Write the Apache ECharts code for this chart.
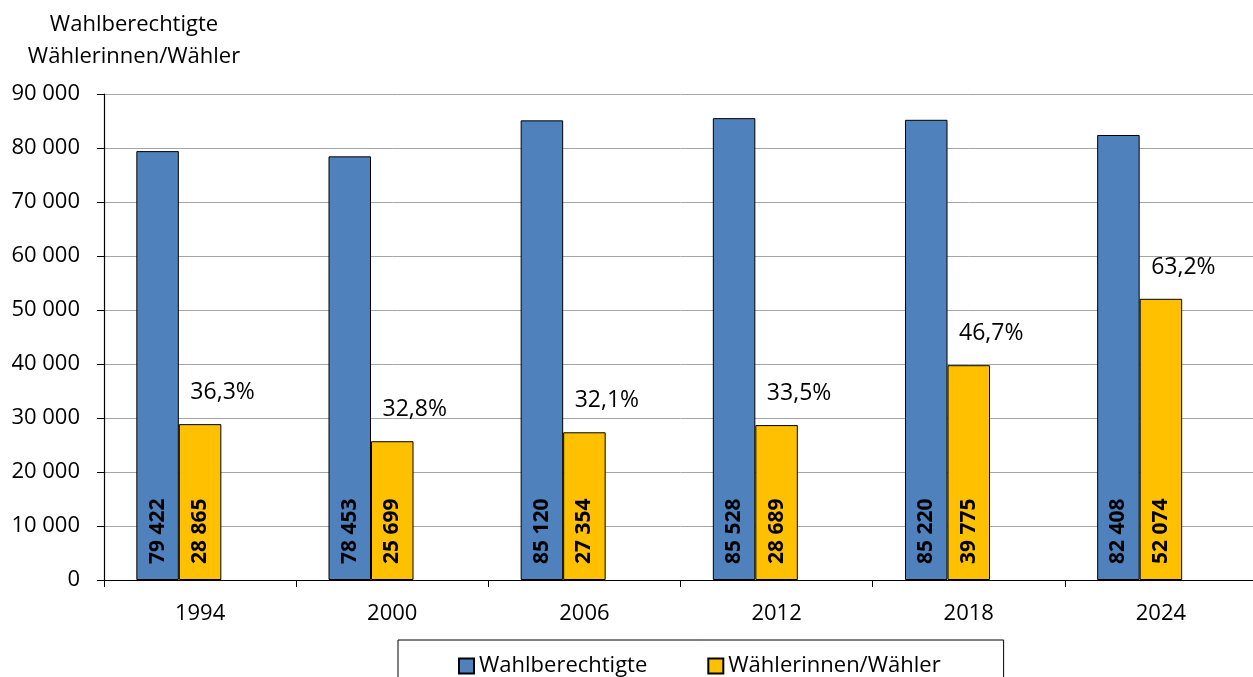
<!DOCTYPE html>
<html>
<head>
<meta charset="utf-8">
<script src="https://cdn.jsdelivr.net/npm/echarts@6/dist/echarts.min.js"></script>
<style>
html,body{margin:0;padding:0;background:#fff;overflow:hidden;width:1253px;height:677px;}
#c{width:1257px;height:677px;}
</style>
</head>
<body>
<div id="c"></div>
<script>
const years = ['1994', '2000', '2006', '2012', '2018', '2024'];
const eligible = [79422, 78453, 85120, 85528, 85220, 82408];
const voters = [28865, 25699, 27354, 28689, 39775, 52074];
const turnout = ['36,3%', '32,8%', '32,1%', '33,5%', '46,7%', '63,2%'];
const yTicks = { min: 0, max: 90000, interval: 10000 };
const seriesNames = ['Wahlberechtigte', 'Wählerinnen/Wähler'];

const FONT = "'Open Sans', 'Noto Sans', sans-serif";
const fmt = v => String(v).replace(/\B(?=(\d{3})+(?!\d))/g, ' ');

const insideLabel = {
  show: true,
  position: 'insideBottom',
  rotate: 90,
  align: 'left',
  verticalAlign: 'middle',
  distance: 16,
  fontFamily: FONT,
  fontSize: 21,
  fontWeight: 'bold',
  color: '#000',
  formatter: p => fmt(p.value)
};

const chart = echarts.init(document.getElementById('c'), null, { renderer: 'canvas' });
chart.setOption({
  animation: false,
  backgroundColor: '#fff',
  title: {
    text: 'Wahlberechtigte\nWählerinnen/Wähler',
    left: 129,
    top: 4,
    textAlign: 'center',
    textStyle: { fontFamily: FONT, fontSize: 22, fontWeight: 'normal', color: '#000', lineHeight: 32 }
  },
  grid: { left: 104, top: 94, right: 0, height: 486, containLabel: false },
  legend: {
    data: seriesNames,
    left: 398,
    top: 640,
    padding: [15, 63, 20, 60],
    itemGap: 60,
    itemWidth: 15,
    itemHeight: 15,
    borderColor: '#000',
    borderWidth: 1,
    icon: 'rect',
    textStyle: { fontFamily: FONT, fontSize: 22, color: '#000', padding: [0, 0, 0, 0] }
  },
  xAxis: {
    type: 'category',
    data: years,
    boundaryGap: true,
    axisLine: { lineStyle: { color: '#000', width: 1.2 } },
    axisTick: { show: true, length: 7, lineStyle: { color: '#000' } },
    axisLabel: { fontFamily: FONT, fontSize: 22, color: '#000', margin: 23 },
    splitLine: { show: false }
  },
  yAxis: {
    type: 'value',
    min: yTicks.min,
    max: yTicks.max,
    interval: yTicks.interval,
    axisLine: { show: true, lineStyle: { color: '#000', width: 1.2 } },
    axisTick: { show: true, length: 7, lineStyle: { color: '#000' } },
    axisLabel: { fontFamily: FONT, fontSize: 22, color: '#000', margin: 24, formatter: v => fmt(v) },
    splitLine: { show: true, lineStyle: { color: '#a6a6a6', width: 1 } }
  },
  series: [
    {
      name: seriesNames[0],
      type: 'bar',
      data: eligible,
      barWidth: 42.5,
      barGap: '0%',
      itemStyle: { color: '#4F81BD', borderColor: '#000', borderWidth: 1 },
      label: insideLabel
    },
    {
      name: seriesNames[1],
      type: 'bar',
      data: voters,
      barWidth: 42.5,
      barGap: '0%',
      itemStyle: { color: '#FFC000', borderColor: '#000', borderWidth: 1 },
      label: insideLabel
    },
    {
      name: 'Wahlbeteiligung',
      type: 'bar',
      data: voters,
      barWidth: 42.5,
      barGap: '0%',
      silent: true,
      itemStyle: { color: 'rgba(0,0,0,0)', borderWidth: 0 },
      label: {
        show: true,
        position: 'top',
        distance: 20,
        offset: [-20, 0],
        fontFamily: FONT,
        fontSize: 23,
        color: '#000',
        formatter: p => turnout[p.dataIndex]
      }
    }
  ]
});
</script>
</body>
</html>
